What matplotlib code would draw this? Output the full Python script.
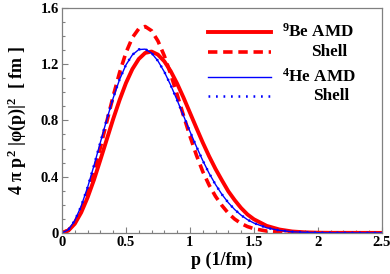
import matplotlib
matplotlib.use("Agg")
import matplotlib.pyplot as plt
from matplotlib.lines import Line2D
from matplotlib.ticker import MultipleLocator

plt.rcParams['font.family'] = ['Liberation Serif', 'DejaVu Serif']
plt.rcParams['font.weight'] = 'bold'
plt.rcParams['mathtext.fontset'] = 'custom'
plt.rcParams['mathtext.rm'] = 'Liberation Serif:bold'
plt.rcParams['mathtext.it'] = 'Liberation Serif:bold'
plt.rcParams['mathtext.bf'] = 'Liberation Serif:bold'

# momentum p (1/fm)
p = [0, 0.05, 0.1, 0.15, 0.2, 0.25, 0.3, 0.35, 0.4, 0.45,
     0.5, 0.55, 0.6, 0.65, 0.7, 0.75, 0.8, 0.85, 0.9, 0.95,
     1.0, 1.05, 1.1, 1.15, 1.2, 1.25, 1.3, 1.35, 1.4, 1.45,
     1.5, 1.6, 1.7, 1.8, 1.9, 2.0, 2.1, 2.5]

# 9Be
be_amd = [0, 0.017, 0.065, 0.145, 0.252, 0.378, 0.520, 0.665, 0.810, 0.945,
          1.066, 1.165, 1.237, 1.280, 1.290, 1.268, 1.220, 1.150, 1.062, 0.962,
          0.855, 0.748, 0.643, 0.545, 0.455, 0.374, 0.296, 0.233, 0.177, 0.131,
          0.097, 0.050, 0.024, 0.010, 0.004, 0.0015, 0.0005, 0]
be_shell = [0, 0.019, 0.074, 0.164, 0.287, 0.437, 0.608, 0.791, 0.972, 1.140,
            1.282, 1.389, 1.452, 1.468, 1.438, 1.365, 1.259, 1.128, 0.984, 0.834,
            0.689, 0.555, 0.437, 0.340, 0.260, 0.195, 0.140, 0.098, 0.067, 0.045,
            0.030, 0.013, 0.005, 0.0015, 0.0004, 0, 0, 0]

# 4He
he_amd = [0, 0.022, 0.088, 0.191, 0.324, 0.479, 0.644, 0.807, 0.959, 1.091,
          1.195, 1.266, 1.304, 1.307, 1.279, 1.223, 1.145, 1.050, 0.944, 0.833,
          0.722, 0.615, 0.515, 0.424, 0.344, 0.274, 0.215, 0.166, 0.126, 0.094,
          0.070, 0.036, 0.018, 0.008, 0.004, 0.0015, 0.0005, 0]
he_shell = [0, 0.022, 0.088, 0.191, 0.325, 0.480, 0.645, 0.808, 0.960, 1.092,
            1.196, 1.267, 1.305, 1.308, 1.280, 1.224, 1.146, 1.050, 0.944, 0.833,
            0.722, 0.615, 0.515, 0.424, 0.344, 0.274, 0.215, 0.166, 0.126, 0.094,
            0.070, 0.036, 0.018, 0.008, 0.004, 0.0015, 0.0005, 0]

fig = plt.figure(figsize=(3.9, 2.74), dpi=100)
ax = fig.add_axes([0.159, 0.150, 0.820, 0.821])

ax.plot(p, be_amd, color='#ff0000', lw=2.8, solid_capstyle='butt')
ax.plot(p, be_shell, color='#ff0000', lw=2.6, dashes=(2.6, 1.6))
ax.plot(p, he_amd, color='#0000ff', lw=1.0)
ax.plot(p, he_shell, color='#0000ff', lw=1.8, dashes=(0.7, 2.3))

ax.set_xlim(0, 2.5)
ax.set_ylim(0, 1.6)
ax.xaxis.set_major_locator(MultipleLocator(0.5))
ax.xaxis.set_minor_locator(MultipleLocator(0.1))
ax.yaxis.set_major_locator(MultipleLocator(0.4))
ax.yaxis.set_minor_locator(MultipleLocator(0.1))
ax.set_xticks([0, 0.5, 1, 1.5, 2, 2.5])
ax.set_xticklabels(['0', '0.5', '1', '1.5', '2', '2.5'])
ax.set_yticks([0, 0.4, 0.8, 1.2, 1.6])
ax.set_yticklabels(['0', '0.4', '0.8', '1.2', '1.6'])

for s in ax.spines.values():
    s.set_color('#808080')
    s.set_linewidth(0.9)
ax.tick_params(which='both', direction='in', color='#808080', labelsize=10.5, pad=2)
ax.tick_params(which='major', length=4, width=0.8)
ax.tick_params(which='minor', length=2.5, width=0.8)

ax.set_xlabel('p (1/fm)', fontsize=13, fontweight='bold', labelpad=2)
ax.set_ylabel('4 π p$^2$ |φ(p)|$^2$  [ fm ]', fontsize=13, fontweight='bold', labelpad=9)

# legend
lx = [0.455, 0.655]
ly = [0.893, 0.806, 0.695, 0.610]
styles = [dict(color='#ff0000', lw=2.8),
          dict(color='#ff0000', lw=2.6, dashes=(2.6, 1.6)),
          dict(color='#0000ff', lw=1.0),
          dict(color='#0000ff', lw=1.8, dashes=(0.7, 2.3))]
labels = ['$^9$Be AMD', 'Shell', '$^4$He AMD', 'Shell']
tx = [0.688, 0.78, 0.688, 0.785]
for y, st, lab, x in zip(ly, styles, labels, tx):
    ax.add_line(Line2D(lx, [y, y], transform=ax.transAxes, **st))
    ax.text(x, y, lab, transform=ax.transAxes, fontsize=12.3, fontweight='bold',
            va='center', ha='left')

fig.savefig('out.png', dpi=100)
